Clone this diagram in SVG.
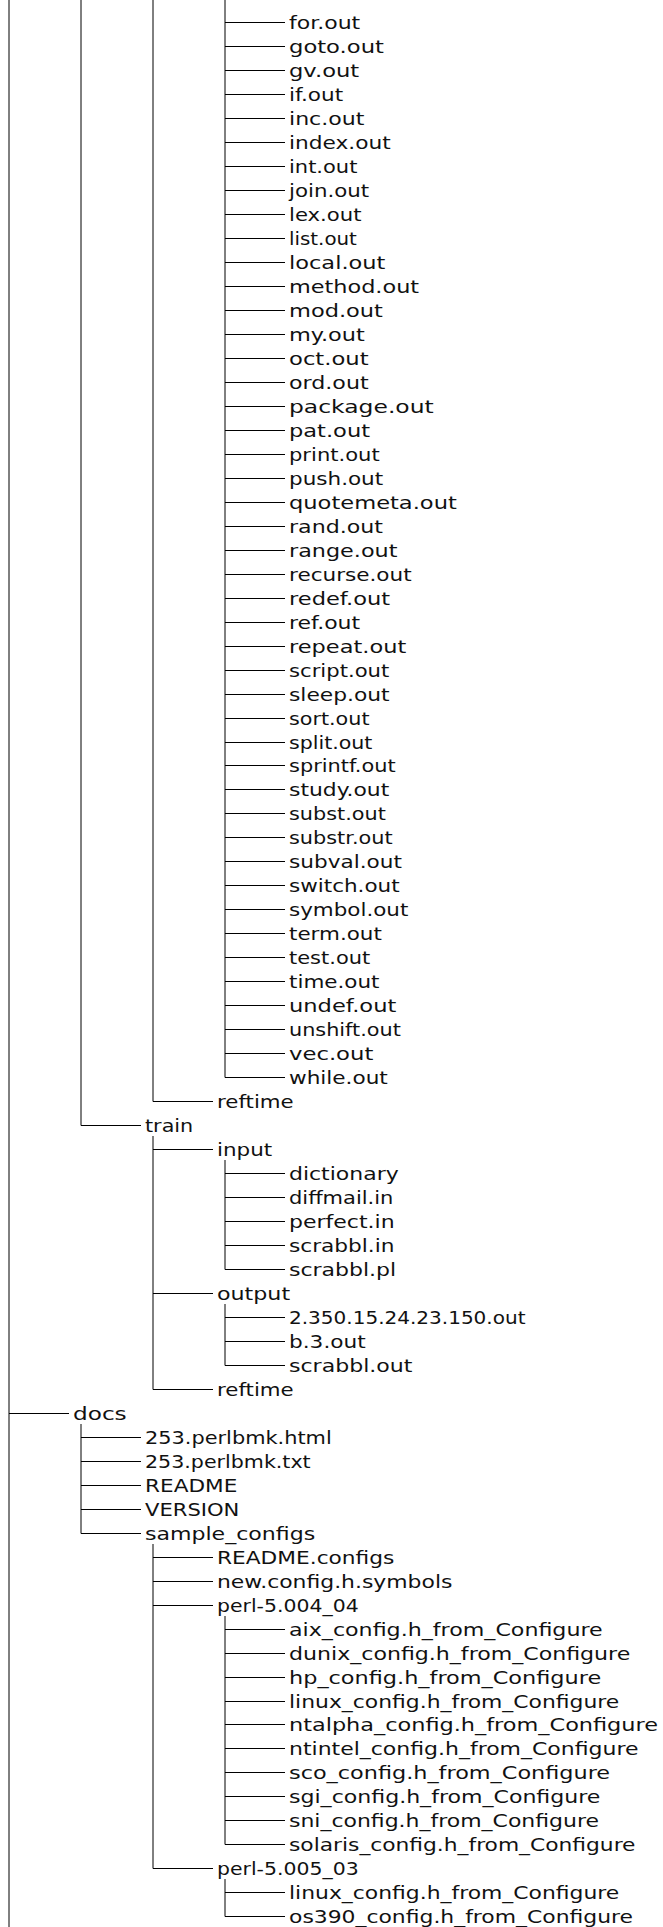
<svg xmlns="http://www.w3.org/2000/svg" width="663" height="1927" viewBox="0 0 663 1927">
<style>
.t{font-family:"DejaVu Sans","Liberation Sans",sans-serif;font-size:18px;fill:#111}
.c{stroke:#000;stroke-width:1;fill:none}
</style>
<rect width="663" height="1927" fill="#fff"/>
<g id="connectors" class="c">
<path d="M9 0V1927M9 1413.5H69"/>
<path d="M81 0V1125.5M81 1125.5H141"/>
<path d="M153 0V1101.5M153 1101.5H213"/>
<path d="M225 0V1077.5M225 22.5H285M225 46.5H285M225 70.5H285M225 94.5H285M225 118.5H285M225 142.5H285M225 166.5H285M225 190.5H285M225 214.5H285M225 238.5H285M225 262.5H285M225 286.5H285M225 310.5H285M225 334.5H285M225 358.5H285M225 382.5H285M225 406.5H285M225 430.5H285M225 454.5H285M225 478.5H285M225 502.5H285M225 526.5H285M225 550.5H285M225 574.5H285M225 598.5H285M225 622.5H285M225 646.5H285M225 670.5H285M225 694.5H285M225 718.5H285M225 742.5H285M225 765.5H285M225 789.5H285M225 813.5H285M225 837.5H285M225 861.5H285M225 885.5H285M225 909.5H285M225 933.5H285M225 957.5H285M225 981.5H285M225 1005.5H285M225 1029.5H285M225 1053.5H285M225 1077.5H285"/>
<path d="M153 1136V1389.5M153 1149.5H213M153 1293.5H213M153 1389.5H213"/>
<path d="M225 1160V1269.5M225 1173.5H285M225 1197.5H285M225 1221.5H285M225 1245.5H285M225 1269.5H285"/>
<path d="M225 1304V1365.5M225 1317.5H285M225 1341.5H285M225 1365.5H285"/>
<path d="M81 1424V1533.5M81 1437.5H141M81 1461.5H141M81 1485.5H141M81 1509.5H141M81 1533.5H141"/>
<path d="M153 1544V1868.5M153 1557.5H213M153 1581.5H213M153 1605.5H213M153 1868.5H213"/>
<path d="M225 1616V1844.5M225 1629.5H285M225 1653.5H285M225 1677.5H285M225 1701.5H285M225 1724.5H285M225 1748.5H285M225 1772.5H285M225 1796.5H285M225 1820.5H285M225 1844.5H285"/>
<path d="M225 1879V1916.5M225 1892.5H285M225 1916.5H285"/>
</g>
<g class="t" lengthAdjust="spacingAndGlyphs">
<g id="n0"><text x="289" y="28.5" textLength="71.2" lengthAdjust="spacingAndGlyphs">for.out</text></g>
<g id="n1"><text x="289" y="52.5" textLength="94.9" lengthAdjust="spacingAndGlyphs">goto.out</text></g>
<g id="n2"><text x="289" y="76.5" textLength="70.2" lengthAdjust="spacingAndGlyphs">gv.out</text></g>
<g id="n3"><text x="289" y="100.5" textLength="54.1" lengthAdjust="spacingAndGlyphs">if.out</text></g>
<g id="n4"><text x="289" y="124.5" textLength="75.4" lengthAdjust="spacingAndGlyphs">inc.out</text></g>
<g id="n5"><text x="289" y="148.5" textLength="101.8" lengthAdjust="spacingAndGlyphs">index.out</text></g>
<g id="n6"><text x="289" y="172.5" textLength="68.4" lengthAdjust="spacingAndGlyphs">int.out</text></g>
<g id="n7"><text x="289" y="196.5" textLength="80.2" lengthAdjust="spacingAndGlyphs">join.out</text></g>
<g id="n8"><text x="289" y="220.5" textLength="72.5" lengthAdjust="spacingAndGlyphs">lex.out</text></g>
<g id="n9"><text x="289" y="244.5" textLength="67.9" lengthAdjust="spacingAndGlyphs">list.out</text></g>
<g id="n10"><text x="289" y="268.5" textLength="96.4" lengthAdjust="spacingAndGlyphs">local.out</text></g>
<g id="n11"><text x="289" y="292.5" textLength="130.1" lengthAdjust="spacingAndGlyphs">method.out</text></g>
<g id="n12"><text x="289" y="316.5" textLength="93.9" lengthAdjust="spacingAndGlyphs">mod.out</text></g>
<g id="n13"><text x="289" y="340.5" textLength="75.8" lengthAdjust="spacingAndGlyphs">my.out</text></g>
<g id="n14"><text x="289" y="364.5" textLength="79.6" lengthAdjust="spacingAndGlyphs">oct.out</text></g>
<g id="n15"><text x="289" y="388.5" textLength="79.6" lengthAdjust="spacingAndGlyphs">ord.out</text></g>
<g id="n16"><text x="289" y="412.5" textLength="144.7" lengthAdjust="spacingAndGlyphs">package.out</text></g>
<g id="n17"><text x="289" y="436.5" textLength="81" lengthAdjust="spacingAndGlyphs">pat.out</text></g>
<g id="n18"><text x="289" y="460.5" textLength="90.7" lengthAdjust="spacingAndGlyphs">print.out</text></g>
<g id="n19"><text x="289" y="484.5" textLength="94.2" lengthAdjust="spacingAndGlyphs">push.out</text></g>
<g id="n20"><text x="289" y="508.5" textLength="167.8" lengthAdjust="spacingAndGlyphs">quotemeta.out</text></g>
<g id="n21"><text x="289" y="532.5" textLength="94" lengthAdjust="spacingAndGlyphs">rand.out</text></g>
<g id="n22"><text x="289" y="556.5" textLength="108.4" lengthAdjust="spacingAndGlyphs">range.out</text></g>
<g id="n23"><text x="289" y="580.5" textLength="122.6" lengthAdjust="spacingAndGlyphs">recurse.out</text></g>
<g id="n24"><text x="289" y="604.5" textLength="101.2" lengthAdjust="spacingAndGlyphs">redef.out</text></g>
<g id="n25"><text x="289" y="628.5" textLength="71.1" lengthAdjust="spacingAndGlyphs">ref.out</text></g>
<g id="n26"><text x="289" y="652.5" textLength="117.2" lengthAdjust="spacingAndGlyphs">repeat.out</text></g>
<g id="n27"><text x="289" y="676.5" textLength="100.3" lengthAdjust="spacingAndGlyphs">script.out</text></g>
<g id="n28"><text x="289" y="700.5" textLength="100.6" lengthAdjust="spacingAndGlyphs">sleep.out</text></g>
<g id="n29"><text x="289" y="724.5" textLength="80.5" lengthAdjust="spacingAndGlyphs">sort.out</text></g>
<g id="n30"><text x="289" y="748.5" textLength="83.4" lengthAdjust="spacingAndGlyphs">split.out</text></g>
<g id="n31"><text x="289" y="771.5" textLength="106.6" lengthAdjust="spacingAndGlyphs">sprintf.out</text></g>
<g id="n32"><text x="289" y="795.5" textLength="100.2" lengthAdjust="spacingAndGlyphs">study.out</text></g>
<g id="n33"><text x="289" y="819.5" textLength="96.8" lengthAdjust="spacingAndGlyphs">subst.out</text></g>
<g id="n34"><text x="289" y="843.5" textLength="103.6" lengthAdjust="spacingAndGlyphs">substr.out</text></g>
<g id="n35"><text x="289" y="867.5" textLength="112.9" lengthAdjust="spacingAndGlyphs">subval.out</text></g>
<g id="n36"><text x="289" y="891.5" textLength="110.6" lengthAdjust="spacingAndGlyphs">switch.out</text></g>
<g id="n37"><text x="289" y="915.5" textLength="119.3" lengthAdjust="spacingAndGlyphs">symbol.out</text></g>
<g id="n38"><text x="289" y="939.5" textLength="92.8" lengthAdjust="spacingAndGlyphs">term.out</text></g>
<g id="n39"><text x="289" y="963.5" textLength="81.2" lengthAdjust="spacingAndGlyphs">test.out</text></g>
<g id="n40"><text x="289" y="987.5" textLength="90.5" lengthAdjust="spacingAndGlyphs">time.out</text></g>
<g id="n41"><text x="289" y="1011.5" textLength="107.3" lengthAdjust="spacingAndGlyphs">undef.out</text></g>
<g id="n42"><text x="289" y="1035.5" textLength="111.8" lengthAdjust="spacingAndGlyphs">unshift.out</text></g>
<g id="n43"><text x="289" y="1059.5" textLength="84.3" lengthAdjust="spacingAndGlyphs">vec.out</text></g>
<g id="n44"><text x="289" y="1083.5" textLength="98.8" lengthAdjust="spacingAndGlyphs">while.out</text></g>
<g id="n45"><text x="217" y="1107.5" textLength="76.7" lengthAdjust="spacingAndGlyphs">reftime</text></g>
<g id="n46"><text x="145" y="1131.5" textLength="48.2" lengthAdjust="spacingAndGlyphs">train</text></g>
<g id="n47"><text x="217" y="1155.5" textLength="55.2" lengthAdjust="spacingAndGlyphs">input</text></g>
<g id="n48"><text x="289" y="1179.5" textLength="109.7" lengthAdjust="spacingAndGlyphs">dictionary</text></g>
<g id="n49"><text x="289" y="1203.5" textLength="104.4" lengthAdjust="spacingAndGlyphs">diffmail.in</text></g>
<g id="n50"><text x="289" y="1227.5" textLength="105.6" lengthAdjust="spacingAndGlyphs">perfect.in</text></g>
<g id="n51"><text x="289" y="1251.5" textLength="105.5" lengthAdjust="spacingAndGlyphs">scrabbl.in</text></g>
<g id="n52"><text x="289" y="1275.5" textLength="107.2" lengthAdjust="spacingAndGlyphs">scrabbl.pl</text></g>
<g id="n53"><text x="217" y="1299.5" textLength="73.1" lengthAdjust="spacingAndGlyphs">output</text></g>
<g id="n54"><text x="289" y="1323.5" textLength="236.5" lengthAdjust="spacingAndGlyphs">2.350.15.24.23.150.out</text></g>
<g id="n55"><text x="289" y="1347.5" textLength="76.7" lengthAdjust="spacingAndGlyphs">b.3.out</text></g>
<g id="n56"><text x="289" y="1371.5" textLength="123.4" lengthAdjust="spacingAndGlyphs">scrabbl.out</text></g>
<g id="n57"><text x="217" y="1395.5" textLength="76.7" lengthAdjust="spacingAndGlyphs">reftime</text></g>
<g id="n58"><text x="73" y="1419.5" textLength="53.7" lengthAdjust="spacingAndGlyphs">docs</text></g>
<g id="n59"><text x="145" y="1443.5" textLength="186.7" lengthAdjust="spacingAndGlyphs">253.perlbmk.html</text></g>
<g id="n60"><text x="145" y="1467.5" textLength="165.7" lengthAdjust="spacingAndGlyphs">253.perlbmk.txt</text></g>
<g id="n61"><text x="145" y="1491.5" textLength="92.3" lengthAdjust="spacingAndGlyphs">README</text></g>
<g id="n62"><text x="145" y="1515.5" textLength="94.4" lengthAdjust="spacingAndGlyphs">VERSION</text></g>
<g id="n63"><text x="145" y="1539.5" textLength="170.2" lengthAdjust="spacingAndGlyphs">sample_configs</text></g>
<g id="n64"><text x="217" y="1563.5" textLength="177.3" lengthAdjust="spacingAndGlyphs">README.configs</text></g>
<g id="n65"><text x="217" y="1587.5" textLength="235.4" lengthAdjust="spacingAndGlyphs">new.config.h.symbols</text></g>
<g id="n66"><text x="217" y="1611.5" textLength="141.7" lengthAdjust="spacingAndGlyphs">perl-5.004_04</text></g>
<g id="n67"><text x="289" y="1635.5" textLength="313.7" lengthAdjust="spacingAndGlyphs">aix_config.h_from_Configure</text></g>
<g id="n68"><text x="289" y="1659.5" textLength="341.3" lengthAdjust="spacingAndGlyphs">dunix_config.h_from_Configure</text></g>
<g id="n69"><text x="289" y="1683.5" textLength="312.2" lengthAdjust="spacingAndGlyphs">hp_config.h_from_Configure</text></g>
<g id="n70"><text x="289" y="1707.5" textLength="330.3" lengthAdjust="spacingAndGlyphs">linux_config.h_from_Configure</text></g>
<g id="n71"><text x="289" y="1730.5" textLength="369" lengthAdjust="spacingAndGlyphs">ntalpha_config.h_from_Configure</text></g>
<g id="n72"><text x="289" y="1754.5" textLength="349.5" lengthAdjust="spacingAndGlyphs">ntintel_config.h_from_Configure</text></g>
<g id="n73"><text x="289" y="1778.5" textLength="321.1" lengthAdjust="spacingAndGlyphs">sco_config.h_from_Configure</text></g>
<g id="n74"><text x="289" y="1802.5" textLength="311.4" lengthAdjust="spacingAndGlyphs">sgi_config.h_from_Configure</text></g>
<g id="n75"><text x="289" y="1826.5" textLength="310" lengthAdjust="spacingAndGlyphs">sni_config.h_from_Configure</text></g>
<g id="n76"><text x="289" y="1850.5" textLength="346.5" lengthAdjust="spacingAndGlyphs">solaris_config.h_from_Configure</text></g>
<g id="n77"><text x="217" y="1874.5" textLength="141.7" lengthAdjust="spacingAndGlyphs">perl-5.005_03</text></g>
<g id="n78"><text x="289" y="1898.5" textLength="330.3" lengthAdjust="spacingAndGlyphs">linux_config.h_from_Configure</text></g>
<g id="n79"><text x="289" y="1922.5" textLength="344" lengthAdjust="spacingAndGlyphs">os390_config.h_from_Configure</text></g>
</g>
</svg>
